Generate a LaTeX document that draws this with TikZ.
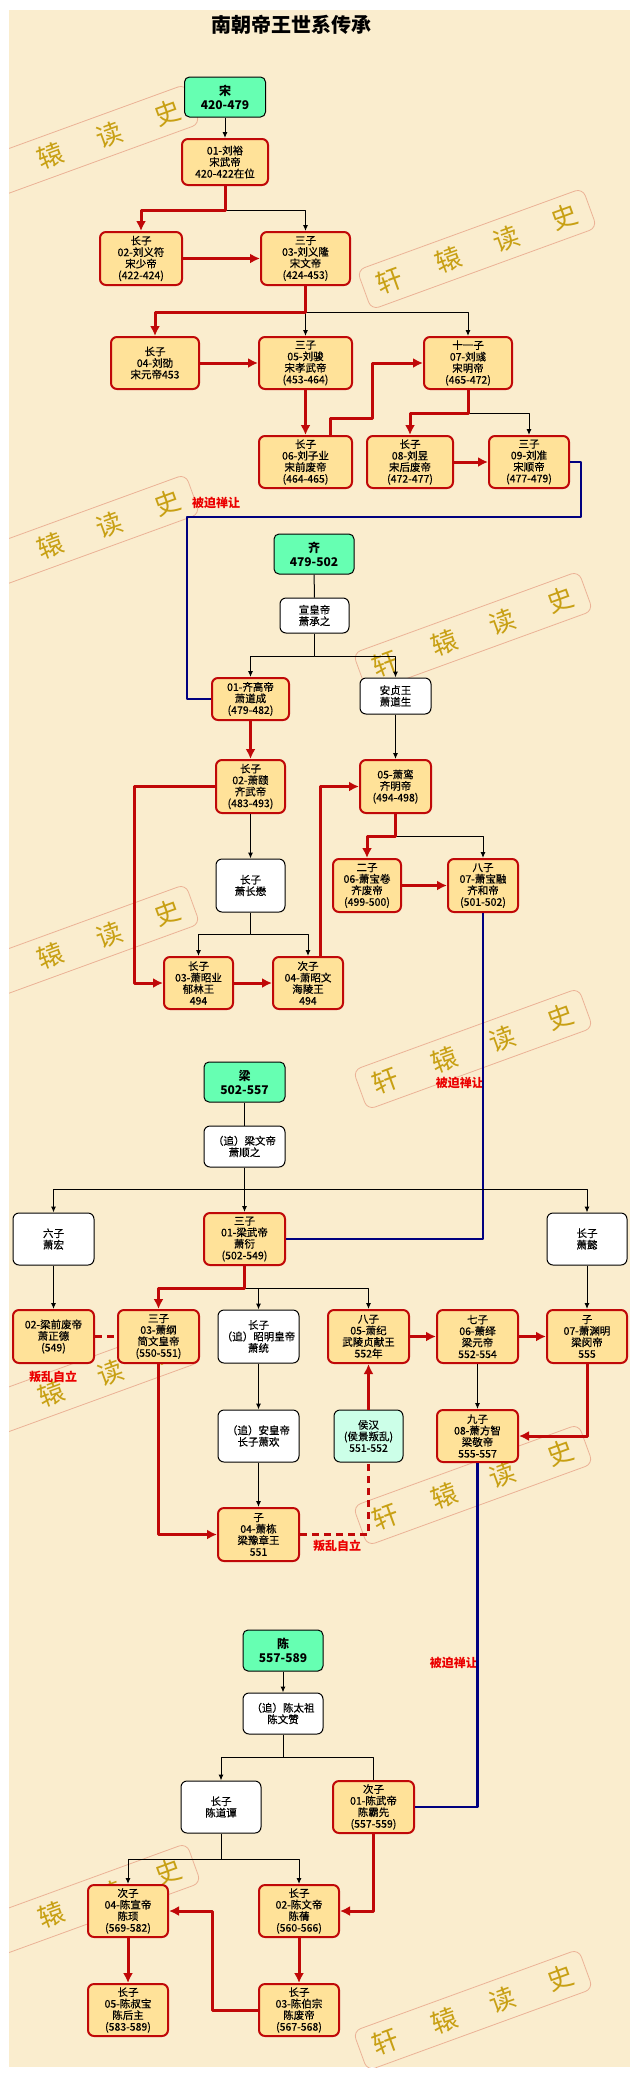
\documentclass[tikz,border=0pt]{standalone}
\usepackage{fontspec}
\setmainfont{Noto Sans CJK SC}
\newfontfamily\boxfont{Noto Sans CJK SC}[FakeBold=0.6]
\usetikzlibrary{arrows.meta}

\definecolor{paper}{RGB}{250,237,206}
\definecolor{reignfill}{RGB}{255,226,153}
\definecolor{reignred}{RGB}{192,8,8}
\definecolor{dyngreen}{RGB}{102,255,178}
\definecolor{rebelgreen}{RGB}{204,255,232}
\definecolor{navyblue}{RGB}{0,0,128}
\definecolor{notered}{RGB}{235,0,0}
\definecolor{wmgold}{RGB}{200,160,20}
\definecolor{wmedge}{RGB}{235,178,150}

\newcommand\wmtext{轩\hspace{36bp}辕\hspace{36bp}读\hspace{36bp}史}

\tikzset{
  dynasty/.style={draw=black,fill=dyngreen,rounded corners=5bp,line width=1bp,minimum width=81bp,minimum height=40bp,align=center,inner sep=1bp,font=\fontsize{12bp}{14bp}\selectfont\bfseries},
  reign/.style={draw=reignred,fill=reignfill,rounded corners=6bp,line width=2bp,minimum width=81bp,minimum height=53bp,align=center,inner sep=1bp,font=\boxfont\fontsize{10.5bp}{11.5bp}\selectfont},
  kin/.style={draw=black,fill=white,rounded corners=6bp,line width=1bp,minimum width=81bp,minimum height=53bp,align=center,inner sep=1bp,font=\boxfont\fontsize{10.5bp}{11.5bp}\selectfont},
  rebel/.style={kin,fill=rebelgreen},
  heir/.style={draw=reignred,line width=3bp,-{Latex[length=10bp,width=10bp]}},
  kinline/.style={draw=black,line width=1bp,->},
  plainline/.style={draw=black,line width=1bp},
  handover/.style={draw=navyblue,line width=2.2bp},
  revolt/.style={draw=reignred,line width=3bp,dash pattern=on 7bp off 5bp},
  note/.style={text=notered,inner sep=0pt,font=\fontsize{12bp}{14bp}\selectfont\bfseries},
  wmark/.style={draw=wmedge,line width=0.8bp,rounded corners=8bp,rotate=20,minimum width=240bp,minimum height=42bp,inner sep=0pt,text=wmgold,font=\fontsize{26bp}{28bp}\selectfont},
}

\begin{document}
\begin{tikzpicture}[>={Latex[length=6bp,width=5bp]},line join=bevel,]
\useasboundingbox (0bp,0bp) rectangle (640bp,-2078bp);
\fill [paper] (9bp,-10bp) rectangle (630bp,-2067bp);
%% watermarks
\begin{scope}
  \clip (9bp,-10bp) rectangle (630bp,-2067bp);
  \node (wm_1) at (80bp,-145bp) [wmark] {\wmtext};
  \node (wm_2) at (477bp,-249bp) [wmark] {\wmtext};
  \node (wm_3) at (80bp,-535bp) [wmark] {\wmtext};
  \node (wm_4) at (473bp,-632bp) [wmark] {\wmtext};
  \node (wm_5) at (80bp,-945bp) [wmark] {\wmtext};
  \node (wm_6) at (473bp,-1049bp) [wmark] {\wmtext};
  \node (wm_7) at (81bp,-1383bp) [wmark] {\wmtext};
  \node (wm_8) at (473bp,-1485bp) [wmark] {\wmtext};
  \node (wm_9) at (81bp,-1904bp) [wmark] {\wmtext};
  \node (wm_10) at (473bp,-2010bp) [wmark] {\wmtext};
\end{scope}
%%
\node (title) at (291bp,-25bp) [font=\fontsize{20bp}{24bp}\selectfont\bfseries] {南朝帝王世系传承};
%% Song
\node (song) at (225bp,-97bp) [dynasty] {宋\\420-479};
  \node (song_01) at (225bp,-162bp) [reign,minimum width=86bp,minimum height=46bp] {01-刘裕\\宋武帝\\420-422在位};
  \node (song_02) at (141bp,-258.5bp) [reign,minimum width=82bp] {长子\\02-刘义符\\宋少帝\\(422-424)};
  \node (song_03) at (305.5bp,-258.5bp) [reign,minimum width=89bp] {三子\\03-刘义隆\\宋文帝\\(424-453)};
  \node (song_04) at (155bp,-363bp) [reign,minimum width=88bp,minimum height=52bp] {长子\\04-刘劭\\宋元帝453};
  \node (song_05) at (305.5bp,-363bp) [reign,minimum width=93bp,minimum height=52bp] {三子\\05-刘骏\\宋孝武帝\\(453-464)};
  \node (song_07) at (468bp,-363bp) [reign,minimum width=88bp,minimum height=52bp] {十一子\\07-刘彧\\宋明帝\\(465-472)};
  \node (song_06) at (305.5bp,-462bp) [reign,minimum width=93bp,minimum height=52bp] {长子\\06-刘子业\\宋前废帝\\(464-465)};
  \node (song_08) at (410bp,-462bp) [reign,minimum width=86bp,minimum height=52bp] {长子\\08-刘昱\\宋后废帝\\(472-477)};
  \node (song_09) at (529bp,-462bp) [reign,minimum width=80bp,minimum height=52bp] {三子\\09-刘准\\宋顺帝\\(477-479)};
%% Qi
\node (qi) at (314bp,-554bp) [dynasty,minimum width=80bp] {齐\\479-502};
  \node (qi_xuan) at (314.5bp,-615.5bp) [kin,minimum width=69bp,minimum height=35bp] {宣皇帝\\萧承之};
  \node (qi_01) at (250.5bp,-699bp) [reign,minimum width=77bp,minimum height=42bp] {01-齐高帝\\萧道成\\(479-482)};
  \node (qi_anzhen) at (395.5bp,-696bp) [kin,minimum width=71bp,minimum height=36bp] {安贞王\\萧道生};
  \node (qi_02) at (250.5bp,-786.5bp) [reign,minimum width=69bp] {长子\\02-萧赜\\齐武帝\\(483-493)};
  \node (qi_05) at (395.5bp,-786.5bp) [reign,minimum width=71bp] {05-萧鸾\\齐明帝\\(494-498)};
  \node (qi_zhangmao) at (250.5bp,-885.5bp) [kin,minimum width=69bp] {长子\\萧长懋};
  \node (qi_06) at (367bp,-885.5bp) [reign,minimum width=68bp] {二子\\06-萧宝卷\\齐废帝\\(499-500)};
  \node (qi_07) at (483bp,-885.5bp) [reign,minimum width=70bp] {八子\\07-萧宝融\\齐和帝\\(501-502)};
  \node (qi_03) at (198.5bp,-983bp) [reign,minimum width=69bp,minimum height=52bp] {长子\\03-萧昭业\\郁林王\\494};
  \node (qi_04) at (308bp,-983bp) [reign,minimum width=70bp,minimum height=52bp] {次子\\04-萧昭文\\海陵王\\494};
%% Liang
\node (liang) at (244.5bp,-1082bp) [dynasty] {梁\\502-557};
  \node (liang_wen) at (244.5bp,-1146.5bp) [kin,minimum height=41bp] {（追）梁文帝\\萧顺之};
  \node (liang_hong) at (53.5bp,-1239bp) [kin,minimum height=52bp] {六子\\萧宏};
  \node (liang_01) at (244.5bp,-1239bp) [reign,minimum height=52bp] {三子\\01-梁武帝\\萧衍\\(502-549)};
  \node (liang_yi) at (587bp,-1239bp) [kin,minimum width=80bp,minimum height=52bp] {长子\\萧懿};
  \node (liang_02) at (53.5bp,-1336.5bp) [reign] {02-梁前废帝\\萧正德\\(549)};
  \node (liang_03) at (158.5bp,-1336.5bp) [reign] {三子\\03-萧纲\\简文皇帝\\(550-551)};
  \node (liang_tong) at (258.5bp,-1336.5bp) [kin] {长子\\（追）昭明皇帝\\萧统};
  \node (liang_05) at (368.5bp,-1336.5bp) [reign] {八子\\05-萧纪\\武陵贞献王\\552年};
  \node (liang_06) at (477.5bp,-1336.5bp) [reign] {七子\\06-萧绎\\梁元帝\\552-554};
  \node (liang_07) at (587bp,-1336.5bp) [reign,minimum width=80bp] {子\\07-萧渊明\\梁闵帝\\555};
  \node (liang_huan) at (258.5bp,-1436bp) [kin,minimum height=52bp] {（追）安皇帝\\长子萧欢};
  \node (liang_hou) at (368.5bp,-1436bp) [rebel,minimum width=69bp,minimum height=52bp] {侯汉\\(侯景叛乱)\\551-552};
  \node (liang_08) at (477.5bp,-1436bp) [reign,minimum height=52bp] {九子\\08-萧方智\\梁敬帝\\555-557};
  \node (liang_04) at (258.5bp,-1534.5bp) [reign] {子\\04-萧栋\\梁豫章王\\551};
%% Chen
\node (chen) at (283bp,-1650.5bp) [dynasty,minimum width=80bp,minimum height=41bp] {陈\\557-589};
  \node (chen_zu) at (283bp,-1713.5bp) [kin,minimum width=80bp,minimum height=41bp] {（追）陈太祖\\陈文赞};
  \node (chen_tan) at (221bp,-1807bp) [kin,minimum width=80bp,minimum height=52bp] {长子\\陈道谭};
  \node (chen_01) at (373.5bp,-1807bp) [reign,minimum height=52bp] {次子\\01-陈武帝\\陈霸先\\(557-559)};
  \node (chen_04) at (128bp,-1911bp) [reign,minimum width=80bp,minimum height=52bp] {次子\\04-陈宣帝\\陈顼\\(569-582)};
  \node (chen_02) at (299bp,-1911bp) [reign,minimum width=80bp,minimum height=52bp] {长子\\02-陈文帝\\陈蒨\\(560-566)};
  \node (chen_05) at (128bp,-2010bp) [reign,minimum width=80bp,minimum height=52bp] {长子\\05-陈叔宝\\陈后主\\(583-589)};
  \node (chen_03) at (299bp,-2010bp) [reign,minimum width=80bp,minimum height=52bp] {长子\\03-陈伯宗\\陈废帝\\(567-568)};
%% notes
\node (note_song) at (216bp,-503bp) [note] {被迫禅让};
\node (note_qi) at (484bp,-1083bp) [note,anchor=east] {被迫禅让};
\node (note_l02) at (53bp,-1377bp) [note] {叛乱自立};
\node (note_l04) at (337bp,-1546bp) [note] {叛乱自立};
\node (note_liang) at (478bp,-1663bp) [note,anchor=east] {被迫禅让};
%% edges: Song
\draw [kinline] (song) -- (song_01);
  \draw [kinline] (song_01.south) ++(0,-24bp) -| (song_03.north);
  \draw [heir] (song_01.south) -- ++(0,-24bp) -| (song_02.north);
  \draw [heir] (song_02) -- (song_03);
  \draw [kinline] (song_03) -- (song_05);
  \draw [kinline] (song_03.south) ++(0,-26bp) -| (song_07.north);
  \draw [heir] (song_03.south) -- ++(0,-26bp) -| (song_04.north);
  \draw [heir] (song_04) -- (song_05);
  \draw [heir] (song_05) -- (song_06);
  \draw [heir] ([xshift=24.5bp]song_06.north) -- ++(0,17bp) -- ++(42bp,0) |- (song_07.west);
  \draw [kinline] (song_07.south) ++(0,-23bp) -| (song_09.north);
  \draw [heir] (song_07.south) -- ++(0,-23bp) -| (song_08.north);
  \draw [heir] (song_08) -- (song_09);
  \draw [handover] (song_09.east) -- ++(11bp,0) -- ++(0,-55bp) -| ([xshift=-24bp]qi_01.west) -- (qi_01.west);
%% edges: Qi
\draw [plainline] (qi) -- (qi_xuan);
  \draw [kinline] (qi_xuan.south) -- ++(0,-23bp) -| (qi_01.north);
  \draw [kinline] (qi_xuan.south) ++(0,-23bp) -| (qi_anzhen.north);
  \draw [heir] (qi_01) -- (qi_02);
  \draw [kinline] (qi_anzhen) -- (qi_05);
  \draw [kinline] (qi_02) -- (qi_zhangmao);
  \draw [heir] (qi_02.west) -- ++(-81bp,0) |- (qi_03.west);
  \draw [kinline] (qi_zhangmao.south) -- ++(0,-22bp) -| (qi_03.north);
  \draw [kinline] (qi_zhangmao.south) ++(0,-22bp) -| (qi_04.north);
  \draw [heir] (qi_03) -- (qi_04);
  \draw [heir] ([xshift=12bp]qi_04.north) |- (qi_05.west);
  \draw [kinline] (qi_05.south) ++(0,-22bp) -| (qi_07.north);
  \draw [heir] (qi_05.south) -- ++(0,-22bp) -| (qi_06.north);
  \draw [heir] (qi_06) -- (qi_07);
  \draw [handover] (qi_07.south) |- (liang_01.east);
%% edges: Liang
\draw [plainline] (liang) -- (liang_wen);
  \draw [kinline] (liang_wen.south) -- ++(0,-22bp) -| (liang_hong.north);
  \draw [kinline] (liang_wen.south) ++(0,-22bp) -| (liang_yi.north);
  \draw [kinline] (liang_wen) -- (liang_01);
  \draw [kinline] (liang_hong) -- (liang_02);
  \draw [kinline] (liang_yi) -- (liang_07);
  \draw [kinline] (liang_01.south) -- ++(0,-22bp) -| (liang_05.north);
  \draw [kinline] (liang_01.south) ++(0,-22bp) -| (liang_tong.north);
  \draw [heir] (liang_01.south) -- ++(0,-22bp) -| (liang_03.north);
  \draw [revolt] (liang_02) -- (liang_03);
  \draw [kinline] (liang_tong) -- (liang_huan);
  \draw [kinline] (liang_huan) -- (liang_04);
  \draw [heir] (liang_03.south) |- (liang_04.west);
  \draw [revolt] (liang_04.east) -| (liang_hou.south);
  \draw [heir] (liang_hou) -- (liang_05);
  \draw [heir] (liang_05) -- (liang_06);
  \draw [heir] (liang_06) -- (liang_07);
  \draw [kinline] (liang_06) -- (liang_08);
  \draw [heir] (liang_07.south) |- (liang_08.east);
  \draw [handover] (liang_08.south) |- (chen_01.east);
%% edges: Chen
\draw [kinline] (chen) -- (chen_zu);
  \draw [kinline] (chen_zu.south) -- ++(0,-23bp) -| (chen_tan.north);
  \draw [plainline] (chen_zu.south) ++(0,-23bp) -| (chen_01.north);
  \draw [kinline] (chen_tan.south) -- ++(0,-26bp) -| (chen_04.north);
  \draw [kinline] (chen_tan.south) ++(0,-26bp) -| (chen_02.north);
  \draw [heir] (chen_01.south) |- (chen_02.east);
  \draw [heir] (chen_04) -- (chen_05);
  \draw [heir] (chen_02) -- (chen_03);
  \draw [heir] (chen_03.west) -- ++(-46bp,0) |- (chen_04.east);
%
\end{tikzpicture}
\end{document}
